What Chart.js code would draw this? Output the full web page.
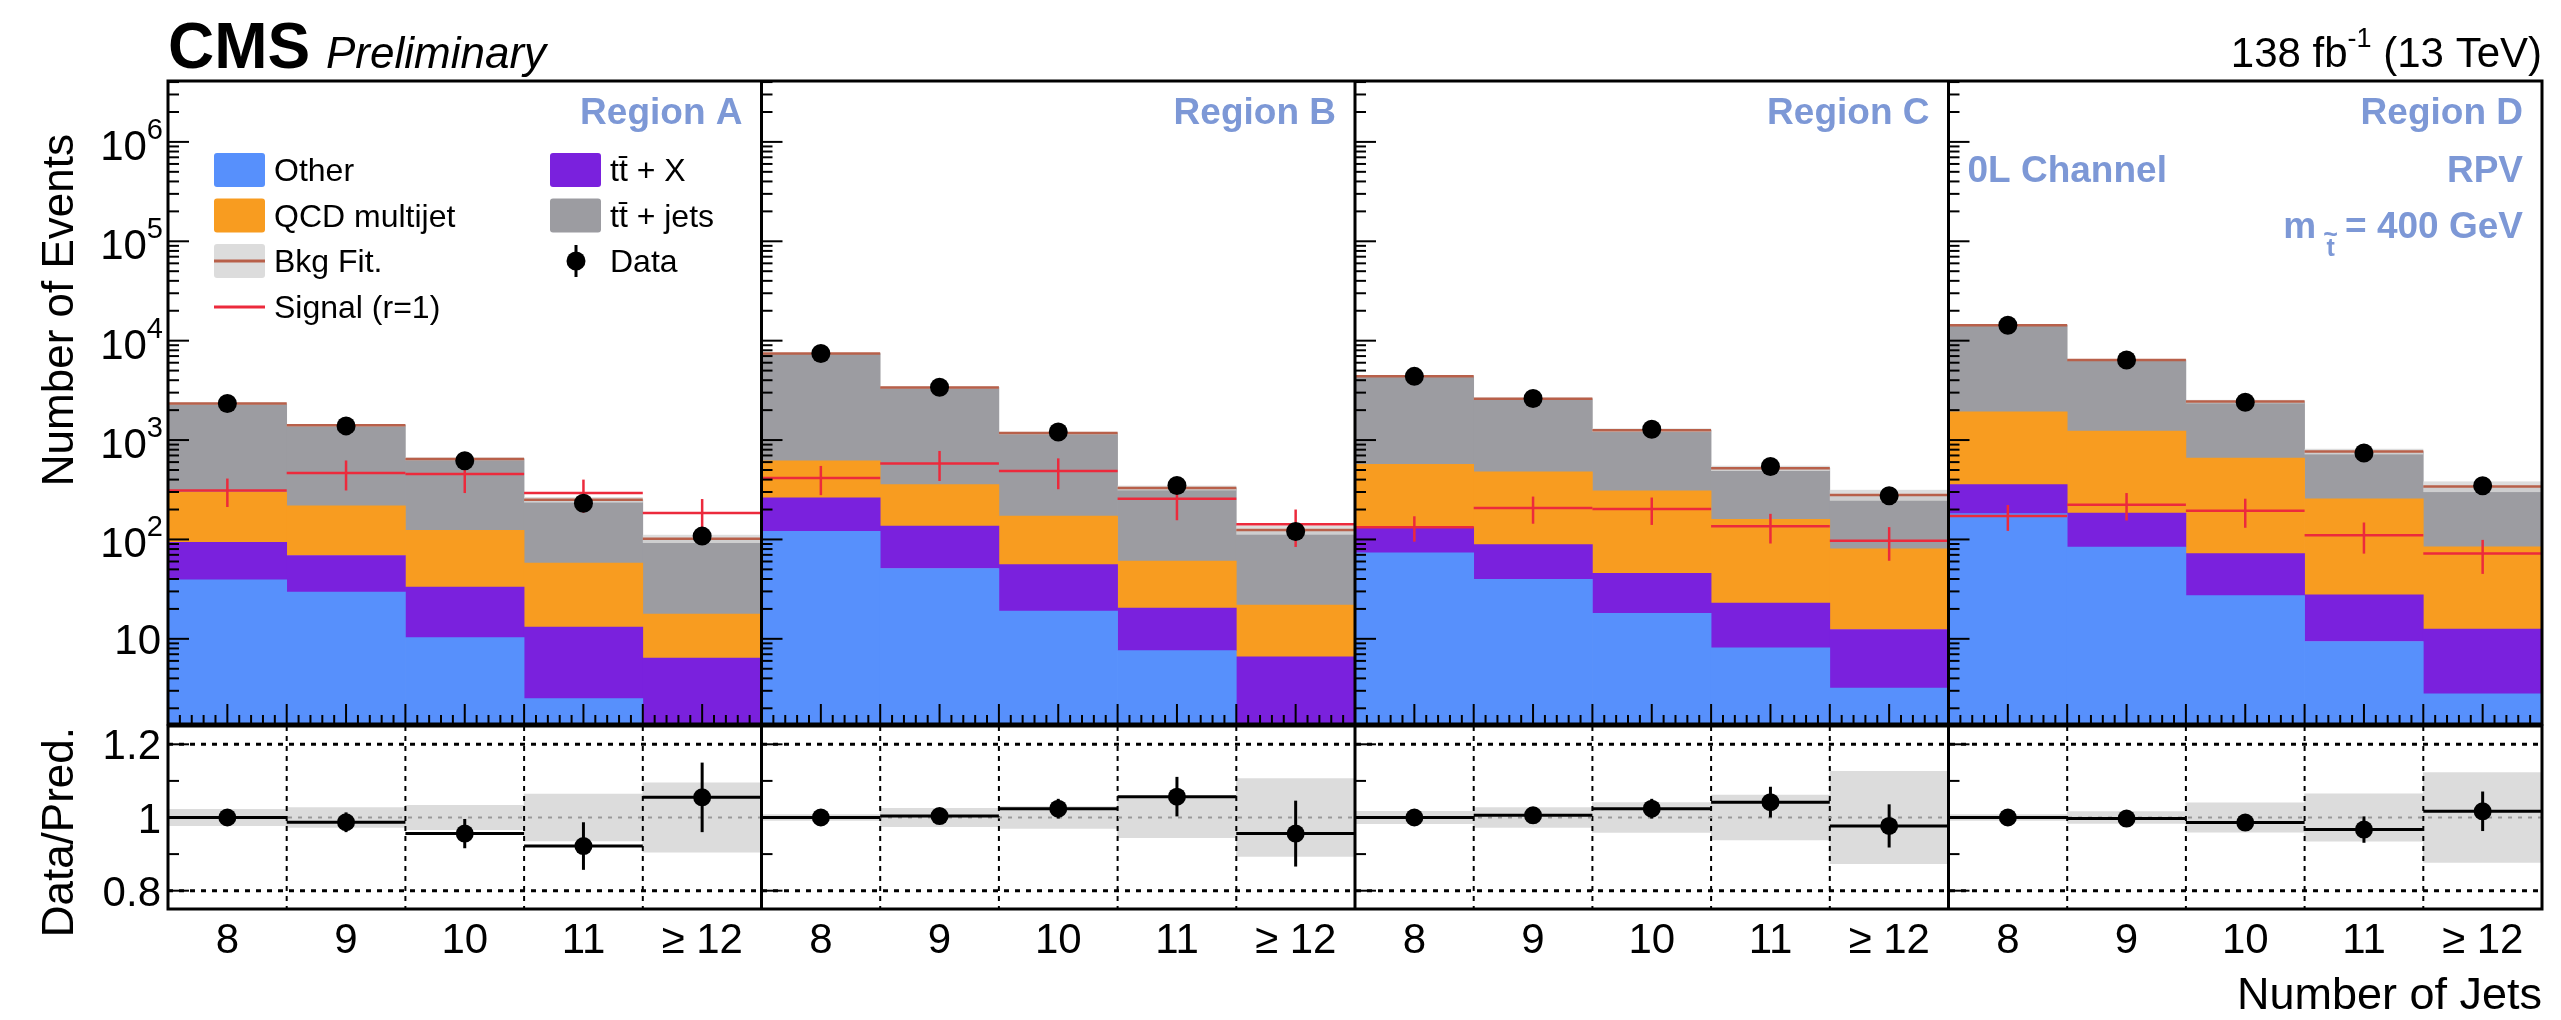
<!DOCTYPE html>
<html>
<head>
<meta charset="utf-8">
<script src="https://cdn.jsdelivr.net/npm/chart.js@4.4.1/dist/chart.umd.min.js"></script>
<style>
  html, body { margin: 0; padding: 0; background: #fff; }
  #wrap { position: relative; width: 2561px; height: 1020px; }
  #wrap canvas { position: absolute; left: 0; top: 0; }
</style>
</head>
<body>
<div id="wrap">
  <canvas id="main" width="2561" height="1020"></canvas>
  <canvas id="ratio" width="2561" height="1020"></canvas>
</div>
<script>
/* =========================================================
   1. Data  (bins: Region A | B | C | D, each 8,9,10,11,>=12)
========================================================= */
const regions = ['Region A', 'Region B', 'Region C', 'Region D'];
const jetBins = ['8', '9', '10', '11', '≥ 12'];
const labels  = regions.flatMap(() => jetBins);

// background yields per process
const other  = [39.3, 29.5, 10.3, 2.5, 0.9,   121, 51, 19, 7.6, 0.9,   73.5, 39.6, 18.1, 8.1, 3.2,   182, 84, 27.2, 9.4, 2.8];
const ttX    = [54, 39.5, 22.9, 10.6, 5.5,    142, 85, 36.7, 12.8, 5.7, 59.5, 49.1, 27.6, 14.8, 9.2,  174, 100, 44.7, 18.3, 9.7];
const qcd    = [204, 149, 90, 44.7, 11.3,     354, 220, 116, 40.3, 15.2, 438, 389, 263, 136, 68,     1567, 1049, 587, 228, 72];
const ttJets = [2033, 1188, 523, 193, 84,     6813, 3032, 1003, 269, 103, 3804, 2122, 947, 361, 200, 12367, 5167, 1779, 511, 257];

// observed data
const observed = [2330, 1388, 618, 231, 108,  7430, 3402, 1203, 349, 120,  4375, 2615, 1286, 542, 275,  14290, 6380, 2404, 742, 347];

// signal (r=1) and its error
const signal    = [311, 467, 456, 293, 185,  414, 582, 487, 256, 142,  133, 207, 202, 136, 97,  172, 224, 194, 110, 72];
const signalErr = [99, 156, 163, 107, 70,    135, 195, 167, 100, 58,   38, 63, 62, 45, 36,      50, 69, 63, 38, 27];

// ratio panel
const ratio    = [1.000, 0.987, 0.956, 0.922, 1.055,  1.000, 1.004, 1.024, 1.057, 0.956,  1.000, 1.006, 1.024, 1.042, 0.977,  1.000, 0.997, 0.986, 0.967, 1.017];
const ratioErr = [0.020, 0.027, 0.040, 0.065, 0.095,  0.012, 0.017, 0.027, 0.054, 0.090,  0.015, 0.020, 0.027, 0.042, 0.059,  0.008, 0.013, 0.020, 0.036, 0.054];
const bkgUnc   = [0.022, 0.027, 0.033, 0.064, 0.095,  0.008, 0.025, 0.030, 0.055, 0.106,  0.017, 0.027, 0.041, 0.061, 0.126,  0.008, 0.016, 0.040, 0.065, 0.123];

/* =========================================================
   2. Helpers
========================================================= */
const FONT = '"Liberation Sans", Arial, Helvetica, sans-serif';
const f = (px, w = '') => `${w} ${px}px ${FONT}`.trim();
const COL = { other: '#5790fc', ttX: '#7a21dd', qcd: '#f89c20', ttJets: '#9c9ca1',
              signal: '#ec2a3c', fit: '#b8604a', band: '#dcdcdc', label: '#7d98d6' };

const line = (ctx, x1, y1, x2, y2) => { ctx.beginPath(); ctx.moveTo(x1, y1); ctx.lineTo(x2, y2); ctx.stroke(); };

// draw text pieces [text, font, dy] side by side; returns x of each piece
function rich(ctx, parts, x, y, align) {
  let w = 0;
  parts.forEach(p => { ctx.font = p[1]; w += ctx.measureText(p[0]).width; });
  let cx = align === 'right' ? x - w : align === 'center' ? x - w / 2 : x;
  const xs = [];
  ctx.textAlign = 'left';
  parts.forEach(p => {
    ctx.font = p[1];
    xs.push(cx);
    ctx.fillText(p[0], cx, y + (p[2] || 0));
    cx += ctx.measureText(p[0]).width;
  });
  return xs;
}

const total = other.map((_, i) => other[i] + ttX[i] + qcd[i] + ttJets[i]);
const binW = sc => sc.width / labels.length;
const panelLeft = (sc, p) => sc.getPixelForValue(p * 5) - binW(sc) / 2;

function frameAndPanels(ctx, a, x) {
  ctx.strokeStyle = '#000';
  ctx.lineWidth = 3;
  ctx.setLineDash([]);
  ctx.strokeRect(a.left, a.top, a.width, a.height);
  for (let p = 1; p < 4; p++) {
    const px = panelLeft(x, p);
    line(ctx, px, a.top, px, a.bottom);
  }
}

/* =========================================================
   3. Main panel
========================================================= */
const legendItems = [
  { label: 'Other',        kind: 'box',  color: COL.other,  col: 0, row: 0 },
  { label: 'tt\u0304 + X',    kind: 'box',  color: COL.ttX,    col: 1, row: 0 },
  { label: 'QCD multijet', kind: 'box',  color: COL.qcd,    col: 0, row: 1 },
  { label: 'tt\u0304 + jets', kind: 'box',  color: COL.ttJets, col: 1, row: 1 },
  { label: 'Bkg Fit.',     kind: 'fit',                     col: 0, row: 2 },
  { label: 'Data',         kind: 'data',                    col: 1, row: 2 },
  { label: 'Signal (r=1)', kind: 'line',                    col: 0, row: 3 }
];

const mainDeco = {
  id: 'mainDeco',
  beforeDatasetDraw(chart, args) {
    if (args.meta.type !== 'line') return;
    const { ctx, chartArea: a, scales: { x, y } } = chart;
    const bw = binW(x);
    ctx.save();
    ctx.beginPath(); ctx.rect(a.left, a.top, a.width, a.height); ctx.clip();
    labels.forEach((_, i) => {
      const cx = x.getPixelForValue(i), l = cx - bw / 2, r = cx + bw / 2;
      // bkg fit band + line
      const yHi = y.getPixelForValue(total[i] * (1 + bkgUnc[i]));
      const yLo = y.getPixelForValue(total[i] * (1 - bkgUnc[i]));
      ctx.fillStyle = 'rgba(215,215,215,0.85)';
      ctx.fillRect(l, yHi, bw, yLo - yHi);
      ctx.strokeStyle = COL.fit; ctx.lineWidth = 2.5;
      line(ctx, l, y.getPixelForValue(total[i]), r, y.getPixelForValue(total[i]));
      // signal cross
      ctx.strokeStyle = COL.signal; ctx.lineWidth = 2.5;
      const ys = y.getPixelForValue(signal[i]);
      line(ctx, l, ys, r, ys);
      line(ctx, cx, y.getPixelForValue(signal[i] + signalErr[i]), cx, y.getPixelForValue(signal[i] - signalErr[i]));
      // data error bar
      const rel = ratioErr[i] / ratio[i];
      ctx.strokeStyle = '#000'; ctx.lineWidth = 3;
      line(ctx, cx, y.getPixelForValue(observed[i] * (1 + rel)), cx, y.getPixelForValue(observed[i] * (1 - rel)));
    });
    ctx.restore();
  },
  afterDraw(chart) {
    const { ctx, chartArea: a, scales: { x, y } } = chart;
    const bw = binW(x);
    ctx.save();
    ctx.fillStyle = '#000';
    ctx.textBaseline = 'alphabetic';

    // x ticks (inside, from bottom)
    ctx.strokeStyle = '#000'; ctx.lineWidth = 2;
    labels.forEach((_, i) => {
      const l = x.getPixelForValue(i) - bw / 2;
      for (let k = 0; k < 10; k++) {
        const px = l + k * bw / 10;
        line(ctx, px, a.bottom, px, a.bottom - (k % 5 === 0 ? 20 : 9));
      }
    });
    // y ticks on every panel's left axis
    for (let p = 0; p < 4; p++) {
      const x0 = panelLeft(x, p);
      for (let e = 0; e <= 6; e++) for (let m = 1; m <= 9; m++) {
        const v = m * Math.pow(10, e);
        if (v < y.min || v > y.max) continue;
        const py = y.getPixelForValue(v);
        line(ctx, x0, py, x0 + (m === 1 ? 21 : 11), py);
      }
    }
    frameAndPanels(ctx, a, x);

    // y labels
    for (let e = 1; e <= 6; e++) {
      const py = y.getPixelForValue(Math.pow(10, e));
      if (e === 1) rich(ctx, [['10', f(42)]], 161, py + 15, 'right');
      else rich(ctx, [['10', f(42), 18], [String(e), f(29), -3]], 163, py, 'right');
    }
    // y title
    ctx.save();
    ctx.translate(73, 134);
    ctx.rotate(-Math.PI / 2);
    ctx.font = f(44); ctx.textAlign = 'right';
    ctx.fillText('Number of Events', 0, 0);
    ctx.restore();

    // header
    rich(ctx, [['CMS', f(64, 'bold')]], 168, 68, 'left');
    rich(ctx, [['Preliminary', f(44, 'italic')]], 326, 68, 'left');
    rich(ctx, [['138 fb', f(42)], ['-1', f(27), -20], [' (13 TeV)', f(42)]], 2542, 67, 'right');

    // region labels
    ctx.fillStyle = COL.label;
    regions.forEach((r, p) => {
      const right = panelLeft(x, p) + bw * 5 - 19;
      rich(ctx, [[r, f(37, 'bold')]], right, 124, 'right');
    });
    const dL = panelLeft(x, 3), dR = a.right - 19;
    rich(ctx, [['0L Channel', f(37, 'bold')]], dL + 19, 182, 'left');
    rich(ctx, [['RPV', f(37, 'bold')]], dR, 182, 'right');
    const xs = rich(ctx, [['m ', f(37, 'bold')], ['t', f(25, 'bold'), 18], [' = 400 GeV', f(37, 'bold')]], dR, 238, 'right');
    ctx.font = f(25, 'bold');
    const tw = ctx.measureText('t').width;
    ctx.textAlign = 'center';
    ctx.fillText('~', xs[1] + tw / 2, 243);

    // legend
    const colX = [214, 550], rowY = [170, 215.5, 261, 307];
    legendItems.forEach(it => {
      const bx = colX[it.col], cy = rowY[it.row];
      if (it.kind === 'box' || it.kind === 'fit') {
        ctx.fillStyle = it.kind === 'fit' ? COL.band : it.color;
        ctx.beginPath(); ctx.roundRect(bx, cy - 17, 51, 34, 3); ctx.fill();
      }
      if (it.kind === 'fit') { ctx.strokeStyle = COL.fit; ctx.lineWidth = 3; line(ctx, bx, cy, bx + 51, cy); }
      if (it.kind === 'line') { ctx.strokeStyle = COL.signal; ctx.lineWidth = 3; line(ctx, bx, cy, bx + 51, cy); }
      if (it.kind === 'data') {
        ctx.strokeStyle = '#000'; ctx.lineWidth = 3;
        line(ctx, bx + 26, cy - 16, bx + 26, cy + 16);
        ctx.fillStyle = '#000';
        ctx.beginPath(); ctx.arc(bx + 26, cy, 9.5, 0, Math.PI * 2); ctx.fill();
      }
      ctx.fillStyle = '#000';
      rich(ctx, [[it.label, f(32)]], bx + 60, cy + 11, 'left');
    });
    ctx.restore();
  }
};

const mainChart = new Chart(document.getElementById('main'), {
  type: 'bar',
  data: {
    labels,
    datasets: [
      { type: 'line', label: 'Data', data: observed, stack: 'data', showLine: false,
        pointRadius: 9.5, pointBackgroundColor: '#000', pointBorderWidth: 0, order: 0 },
      { label: 'Other',          data: other,  backgroundColor: COL.other,  stack: 'bkg', order: 1 },
      { label: 'tt\u0304 + X',    data: ttX,    backgroundColor: COL.ttX,    stack: 'bkg', order: 1 },
      { label: 'QCD multijet',   data: qcd,    backgroundColor: COL.qcd,    stack: 'bkg', order: 1 },
      { label: 'tt\u0304 + jets', data: ttJets, backgroundColor: COL.ttJets, stack: 'bkg', order: 1 }
    ]
  },
  options: {
    responsive: false, animation: false, devicePixelRatio: 1,
    layout: { padding: { left: 168, top: 81, right: 19, bottom: 296 } },
    datasets: { bar: { barPercentage: 1, categoryPercentage: 1, borderWidth: 0 } },
    scales: {
      x: { display: false, stacked: true },
      y: { display: false, type: 'logarithmic', min: 1.39, max: 4.1e6, stacked: true }
    },
    plugins: { legend: { display: false }, tooltip: { enabled: false } }
  },
  plugins: [mainDeco]
});

/* =========================================================
   4. Ratio panel
========================================================= */
const ratioDeco = {
  id: 'ratioDeco',
  beforeDatasetDraw(chart, args) {
    if (args.meta.type !== 'line') return;
    const { ctx, chartArea: a, scales: { x, y } } = chart;
    const bw = binW(x);
    ctx.save();
    ctx.strokeStyle = '#000';
    // dashed vertical grid at bin edges
    ctx.lineWidth = 2; ctx.setLineDash([5, 5]);
    labels.forEach((_, i) => {
      if (i % 5 === 0) return;
      const px = x.getPixelForValue(i) - bw / 2;
      line(ctx, px, a.top, px, a.bottom);
    });
    // dotted 0.8 / 1.2, grey at 1
    ctx.lineWidth = 3; ctx.setLineDash([5, 6]);
    [0.8, 1.2].forEach(v => line(ctx, a.left, y.getPixelForValue(v), a.right, y.getPixelForValue(v)));
    ctx.strokeStyle = '#999'; ctx.lineWidth = 2; ctx.setLineDash([4, 6]);
    line(ctx, a.left, y.getPixelForValue(1), a.right, y.getPixelForValue(1));
    ctx.setLineDash([]);
    // data/pred bin lines + errors
    ctx.strokeStyle = '#000'; ctx.lineWidth = 3;
    labels.forEach((_, i) => {
      const cx = x.getPixelForValue(i), yr = y.getPixelForValue(ratio[i]);
      line(ctx, cx - bw / 2, yr, cx + bw / 2, yr);
      line(ctx, cx, y.getPixelForValue(ratio[i] + ratioErr[i]), cx, y.getPixelForValue(ratio[i] - ratioErr[i]));
    });
    ctx.restore();
  },
  afterDraw(chart) {
    const { ctx, chartArea: a, scales: { x, y } } = chart;
    ctx.save();
    ctx.strokeStyle = '#000'; ctx.lineWidth = 2;
    for (let p = 0; p < 4; p++) {
      const x0 = panelLeft(x, p);
      [[0.8, 21], [0.9, 11], [1.0, 21], [1.1, 11], [1.2, 21]].forEach(([v, len]) => {
        const py = y.getPixelForValue(v);
        line(ctx, x0, py, x0 + len, py);
      });
    }
    frameAndPanels(ctx, a, x);

    ctx.fillStyle = '#000';
    [[1.2, '1.2'], [1.0, '1'], [0.8, '0.8']].forEach(([v, t]) => {
      rich(ctx, [[t, f(42)]], 161, y.getPixelForValue(v) + 15, 'right');
    });
    labels.forEach((t, i) => rich(ctx, [[t, f(42)]], x.getPixelForValue(i), 953, 'center'));

    ctx.save();
    ctx.translate(73, 727);
    ctx.rotate(-Math.PI / 2);
    ctx.font = f(44); ctx.textAlign = 'right';
    ctx.fillText('Data/Pred.', 0, 0);
    ctx.restore();

    rich(ctx, [['Number of Jets', f(45)]], a.right, 1009, 'right');
    ctx.restore();
  }
};

const ratioChart = new Chart(document.getElementById('ratio'), {
  type: 'bar',
  data: {
    labels,
    datasets: [
      { type: 'line', label: 'Data/Pred.', data: ratio, showLine: false,
        pointRadius: 9, pointBackgroundColor: '#000', pointBorderWidth: 0, order: 0 },
      { label: 'Bkg unc.', data: bkgUnc.map(u => [1 - u, 1 + u]), backgroundColor: COL.band, order: 1 }
    ]
  },
  options: {
    responsive: false, animation: false, devicePixelRatio: 1,
    layout: { padding: { left: 168, top: 726, right: 19, bottom: 111 } },
    datasets: { bar: { barPercentage: 1, categoryPercentage: 1, borderWidth: 0 } },
    scales: {
      x: { display: false },
      y: { display: false, min: 0.75, max: 1.25 }
    },
    plugins: { legend: { display: false }, tooltip: { enabled: false } }
  },
  plugins: [ratioDeco]
});
</script>
</body>
</html>
